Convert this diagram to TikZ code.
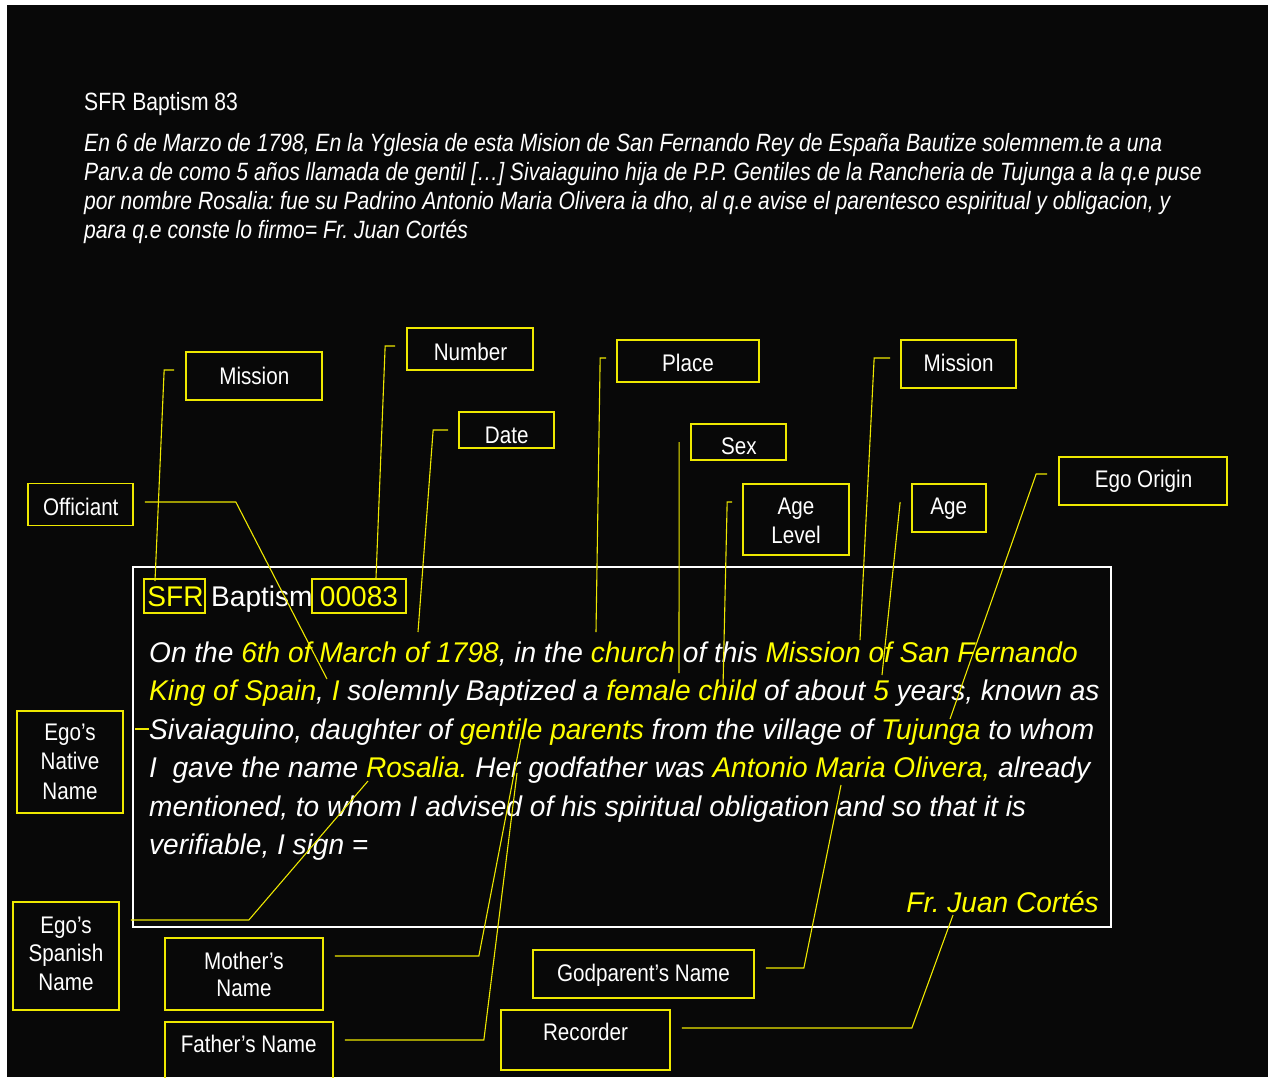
\documentclass[tikz,border=0pt]{standalone}
\usepackage{fontspec}
\setmainfont{Liberation Sans}
\newfontfamily\lblfont[FakeStretch=0.86]{Liberation Sans}
\newfontfamily\topfont[FakeStretch=0.845]{Liberation Sans}
\newfontfamily\bodyfont[FakeStretch=0.985]{Liberation Sans}
\usetikzlibrary{calc}
\frenchspacing
\definecolor{bgc}{RGB}{8,8,8}
\definecolor{ylw}{RGB}{255,255,0}
\definecolor{ybord}{RGB}{238,232,0}
\newcommand{\ytx}[1]{\textcolor{ylw}{#1}}
\tikzset{
  lbox/.style={draw=ybord, line width=1.7pt, inner sep=0pt},
  ltext/.style={text=white, font=\lblfont\fontsize{24}{28.5}\selectfont, inner sep=0pt, anchor=base, align=center},
  conn/.style={draw=ybord, line width=1.1pt},
  bodyline/.style={font=\bodyfont\itshape\fontsize{28.5}{38.5}\selectfont, text=white, inner sep=0pt, anchor=base west},
  hdr/.style={font=\bodyfont\fontsize{28.5}{34}\selectfont, inner sep=0pt, anchor=base},
  topline/.style={font=\topfont\fontsize{25}{29}\selectfont, text=white, inner sep=0pt, anchor=base west},
  topital/.style={topline, font=\topfont\itshape\fontsize{25}{29}\selectfont},
}
\begin{document}
\begin{tikzpicture}[x=1pt,y=-1pt]
\useasboundingbox (0,0) rectangle (1268,1077);
\clip (0,0) rectangle (1268,1077);
\fill[white] (0,0) rectangle (1268,1077);
\fill[bgc] (7,5) rectangle (1268,1077);

% top Spanish record
\node[topline] (ttl) at (84,110) {SFR Baptism 83};
\node[topital] (sp1) at (84,151) {En 6 de Marzo de 1798, En la Yglesia de esta Mision de San Fernando Rey de España Bautize solemnem.te a una};
\node[topital] (sp2) at (84,180) {Parv.a de como 5 años llamada de gentil […] Sivaiaguino hija de P.P. Gentiles de la Rancheria de Tujunga a la q.e puse};
\node[topital] (sp3) at (84,209) {por nombre Rosalia: fue su Padrino Antonio Maria Olivera ia dho, al q.e avise el parentesco espiritual y obligacion, y};
\node[topital] (sp4) at (84,238) {para q.e conste lo firmo= Fr. Juan Cortés};

% main box
\node[draw=white, line width=1.3pt, minimum width=978pt, minimum height=360pt, inner sep=0pt] (main) at (622,747) {};
\node[draw=ybord, line width=1.4pt, minimum width=61pt, minimum height=34pt, inner sep=0pt] (sfrbox) at (174.5,596) {};
\node[hdr,text=ylw] (sfrt) at (175.5,606) {SFR};
\node[hdr,text=white,anchor=base west] (bapt) at (211,606) {Baptism};
\node[draw=ybord, line width=1.4pt, minimum width=94pt, minimum height=34pt, inner sep=0pt] (numbox) at (359,596) {};
\node[hdr,text=ylw] (numt) at (359,606) {00083};

\node[bodyline] (b1) at (149,662) {On the \ytx{6th of March of 1798}, in the \ytx{church} of this \ytx{Mission of San Fernando}};
\node[bodyline] (b2) at (149,700.5) {\ytx{King of Spain}, \ytx{I} solemnly Baptized a \ytx{female child} of about \ytx{5} years, known as};
\node[bodyline] (b3) at (149,739) {Sivaiaguino, daughter of \ytx{gentile parents} from the village of \ytx{Tujunga} to whom};
\node[bodyline] (b4) at (149,777.5) {I\ \ gave the name \ytx{Rosalia.} Her godfather was \ytx{Antonio Maria Olivera,} already};
\node[bodyline] (b5) at (149,816) {mentioned, to whom I advised of his spiritual obligation and so that it is};
\node[bodyline] (b6) at (149,854.5) {verifiable, I sign =};
\node[bodyline,anchor=base east,text=ylw] (rec) at (1099,912) {Fr. Juan Cortés};

% label boxes
\node[lbox, minimum width=136pt, minimum height=48pt] (mission1) at (254,376) {};
\node[ltext] (mission1t) at (254.3,384) {Mission};
\node[lbox, minimum width=126pt, minimum height=42pt] (number) at (470,349) {};
\node[ltext] (numbert) at (470.5,360) {Number};
\node[lbox, minimum width=95pt, minimum height=36pt] (date) at (506.5,430) {};
\node[ltext] (datet) at (506.7,443.3) {Date};
\node[lbox, minimum width=142pt, minimum height=42pt] (place) at (688,361) {};
\node[ltext] (placet) at (688,371.7) {Place};
\node[lbox, minimum width=115pt, minimum height=48pt] (mission2) at (958.5,364) {};
\node[ltext] (mission2t) at (958.7,371.7) {Mission};
\node[lbox, minimum width=95pt, minimum height=36pt] (sex) at (738.5,442) {};
\node[ltext] (sext) at (738.8,454.3) {Sex};
\node[lbox, minimum width=106pt, minimum height=71pt] (agelevel) at (796,519.5) {};
\node[ltext] (ageleveltext) at (796,543.3) {Age\\Level};
\node[lbox, minimum width=74pt, minimum height=48pt] (age) at (949,508) {};
\node[ltext] (aget) at (948.7,514.3) {Age};
\node[lbox, minimum width=168pt, minimum height=48pt] (egoorigin) at (1143,481) {};
\node[ltext] (egoorigint) at (1143.5,487.7) {Ego Origin};
\node[lbox, minimum width=105pt, minimum height=42pt] (officiant) at (80.5,504.5) {};
\node[ltext] (officiantt) at (80.8,515) {Officiant};
\node[lbox, minimum width=106pt, minimum height=102pt] (native) at (70,762) {};
\node[ltext, font=\lblfont\fontsize{24}{29.6}\selectfont] (nativet) at (70,799.3) {Ego’s\\Native\\Name};
\node[lbox, minimum width=106pt, minimum height=108pt] (spanish) at (66,956) {};
\node[ltext] (spanisht) at (66,990) {Ego’s\\Spanish\\Name};
\node[lbox, minimum width=158pt, minimum height=72pt] (mother) at (244,974) {};
\node[ltext, font=\lblfont\fontsize{24}{27.5}\selectfont] (mothert) at (244,996.7) {Mother’s\\Name};
\node[lbox, minimum width=168pt, minimum height=72pt] (father) at (249,1058) {};
\node[ltext] (fathert) at (248.7,1052.3) {Father’s Name};
\node[lbox, minimum width=221pt, minimum height=48pt] (godparent) at (643.5,974) {};
\node[ltext] (godparentt) at (643.5,981.7) {Godparent’s Name};
\node[lbox, minimum width=169pt, minimum height=60pt] (recorder) at (585.5,1040) {};
\node[ltext] (recordert) at (585.5,1040) {Recorder};

% connector ends in the text
\coordinate (t-sfr) at (155,581);
\coordinate (t-num) at (376,578);
\coordinate (t-date) at (418,632);
\coordinate (t-place) at (596,632);
\coordinate (t-sex) at (679,673);
\coordinate (t-agelvl) at (723,687);
\coordinate (t-mis) at (860,640);
\coordinate (t-age) at (882,675);
\coordinate (t-origin) at (950,719);
\coordinate (t-off) at (327,679);
\coordinate (t-native) at (149,729);
\coordinate (t-spanish) at (368,781);
\coordinate (t-mother) at (521,738);
\coordinate (t-father) at (517,773);
\coordinate (t-god) at (841,785);
\coordinate (t-rec) at (953,915);

% connectors
\draw[conn] ($(mission1.west)+(-11,-6)$) -- ++(-10,0) -- (t-sfr);
\draw[conn] ($(number.west)+(-11,-3)$) -- ++(-10,0) -- (t-num);
\draw[conn] ($(date.west)+(-10,0)$) -- ++(-15,0) -- (t-date);
\draw[conn] ($(place.west)+(-10,-3)$) -- ++(-6,0) -- (t-place);
\draw[conn] ($(sex.west)+(-11,0)$) -- (t-sex);
\draw[conn] ($(agelevel.west)+(-10,-17.5)$) -- ++(-5,0) -- (t-agelvl);
\draw[conn] ($(mission2.west)+(-10,-6)$) -- ++(-16,0) -- (t-mis);
\draw[conn] ($(age.west)+(-11,-6)$) -- (t-age);
\draw[conn] ($(egoorigin.west)+(-11,-7)$) -- ++(-11,0) -- (t-origin);
\draw[conn] ($(officiant.east)+(11,-2.5)$) -- ++(91,0) -- (t-off);
\draw[conn] ($(native.east)+(11,-33)$) -- (t-native);
\draw[conn] ($(spanish.east)+(11,-36)$) -- ++(118,0) -- (t-spanish);
\draw[conn] ($(mother.east)+(11,-18)$) -- ++(144,0) -- (t-mother);
\draw[conn] ($(father.east)+(11,-18)$) -- ++(139,0) -- (t-father);
\draw[conn] ($(godparent.east)+(11,-6)$) -- ++(38,0) -- (t-god);
\draw[conn] ($(recorder.east)+(11,-12)$) -- ++(230,0) -- (t-rec);
\end{tikzpicture}
\end{document}
